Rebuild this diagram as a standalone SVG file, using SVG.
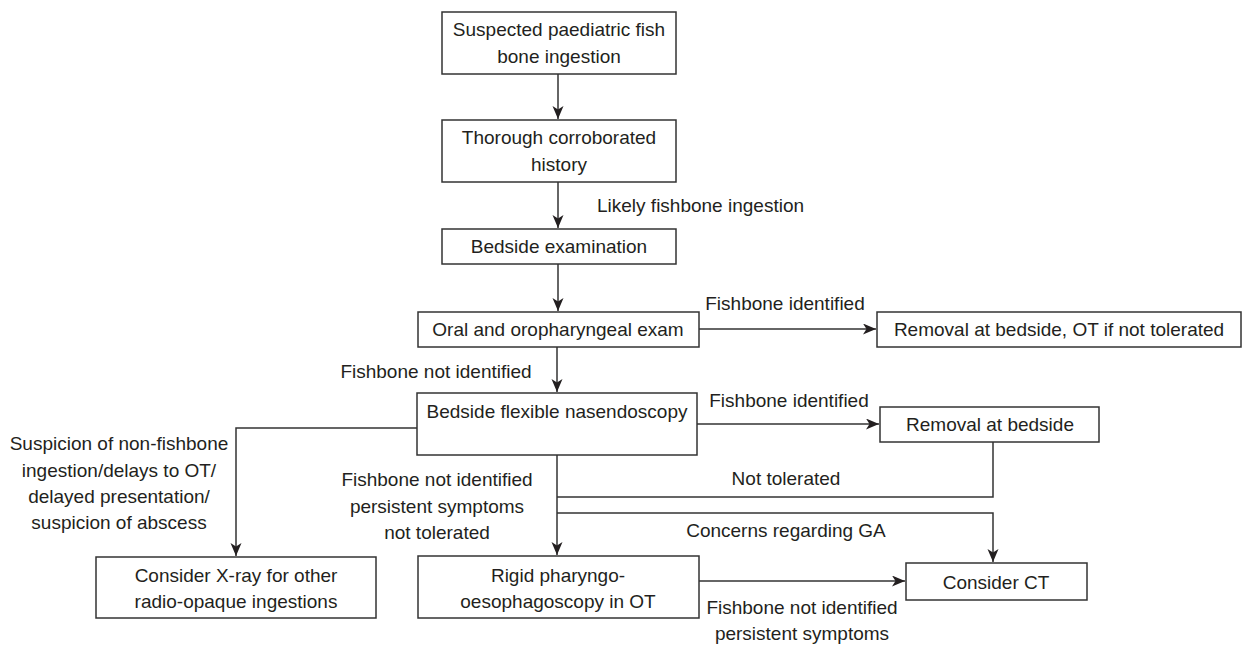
<svg xmlns="http://www.w3.org/2000/svg" width="1243" height="648" viewBox="0 0 1243 648">
<style>
.box{fill:#fff;stroke:#333;stroke-width:1.5}
.t{font-family:"Liberation Sans",Arial,Helvetica,sans-serif;font-size:19px;fill:#231f20;text-anchor:middle}
.ts{text-anchor:start}
.c{fill:none;stroke:#333;stroke-width:1.5}
</style>
<defs>
<marker id="ah" markerUnits="userSpaceOnUse" markerWidth="14" markerHeight="12" refX="13" refY="5.5" orient="auto">
<path d="M0,0 L13,5.5 L0,11 L3.5,5.5 z" fill="#231f20"/>
</marker>
</defs>
<rect width="1243" height="648" fill="#fff"/>
<g id="connectors">
<path class="c" d="M558,74 V119" marker-end="url(#ah)"/>
<path class="c" d="M558,182 V228" marker-end="url(#ah)"/>
<path class="c" d="M558,264 V311" marker-end="url(#ah)"/>
<path class="c" d="M699,329 H876" marker-end="url(#ah)"/>
<path class="c" d="M557,347 V392" marker-end="url(#ah)"/>
<path class="c" d="M697,424 H879" marker-end="url(#ah)"/>
<path class="c" d="M417,428 H236 V556" marker-end="url(#ah)"/>
<path class="c" d="M557,455 V555" marker-end="url(#ah)"/>
<path class="c" d="M993,442 V497 H557"/>
<path class="c" d="M557,513 H993 V562" marker-end="url(#ah)"/>
<path class="c" d="M699,581 H905" marker-end="url(#ah)"/>
<text class="t ts" x="597" y="212">Likely fishbone ingestion</text>
<text class="t" x="785" y="310">Fishbone identified</text>
<text class="t" x="436" y="378">Fishbone not identified</text>
<text class="t" x="789" y="407">Fishbone identified</text>
<text class="t" x="119" y="450">Suspicion of non-fishbone</text>
<text class="t" x="119" y="477">ingestion/delays to OT/</text>
<text class="t" x="119" y="503">delayed presentation/</text>
<text class="t" x="119" y="529">suspicion of abscess</text>
<text class="t" x="437" y="486">Fishbone not identified</text>
<text class="t" x="437" y="513">persistent symptoms</text>
<text class="t" x="437" y="539">not tolerated</text>
<text class="t" x="786" y="485">Not tolerated</text>
<text class="t" x="786" y="537">Concerns regarding GA</text>
<text class="t" x="802" y="614">Fishbone not identified</text>
<text class="t" x="802" y="640">persistent symptoms</text>
</g>
<g id="n1"><rect class="box" x="442" y="12" width="234" height="62"/><text class="t" x="559" y="36">Suspected paediatric fish</text><text class="t" x="559" y="63">bone ingestion</text></g>
<g id="n2"><rect class="box" x="442" y="120" width="234" height="62"/><text class="t" x="559" y="144">Thorough corroborated</text><text class="t" x="559" y="171">history</text></g>
<g id="n3"><rect class="box" x="442" y="229" width="234" height="35"/><text class="t" x="559" y="253">Bedside examination</text></g>
<g id="n4"><rect class="box" x="418" y="312" width="281" height="35"/><text class="t" x="558" y="336">Oral and oropharyngeal exam</text></g>
<g id="n5"><rect class="box" x="877" y="312" width="364" height="35"/><text class="t" x="1059" y="336">Removal at bedside, OT if not tolerated</text></g>
<g id="n6"><rect class="box" x="417" y="393" width="280" height="62"/><text class="t" x="557" y="418">Bedside flexible nasendoscopy</text></g>
<g id="n7"><rect class="box" x="880" y="407" width="219" height="35"/><text class="t" x="990" y="431">Removal at bedside</text></g>
<g id="n8"><rect class="box" x="96" y="557" width="280" height="61"/><text class="t" x="236" y="582">Consider X-ray for other</text><text class="t" x="236" y="608">radio-opaque ingestions</text></g>
<g id="n9"><rect class="box" x="418" y="556" width="281" height="62"/><text class="t" x="558" y="582">Rigid pharyngo-</text><text class="t" x="558" y="608">oesophagoscopy in OT</text></g>
<g id="n10"><rect class="box" x="906" y="563" width="181" height="37"/><text class="t" x="996" y="589">Consider CT</text></g>
</svg>
